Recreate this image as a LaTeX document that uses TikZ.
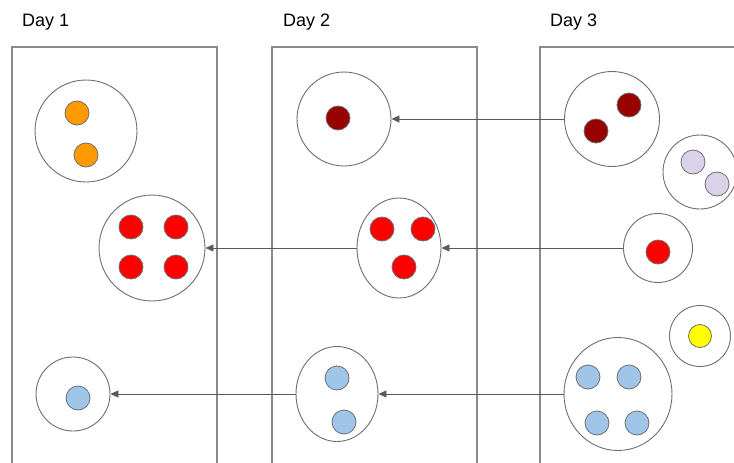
\documentclass[tikz,border=0pt]{standalone}
\usepackage{fontspec}
\setmainfont{Liberation Sans}
\usetikzlibrary{shapes.geometric,arrows.meta}
\definecolor{edgegray}{HTML}{6E6E6E}
\definecolor{boxgray}{HTML}{8A8A8A}
\definecolor{arrowgray}{HTML}{595959}
\definecolor{cellorange}{HTML}{FF9900}
\definecolor{celldark}{HTML}{990000}
\definecolor{cellred}{HTML}{FF0000}
\definecolor{cellblue}{HTML}{9FC5E8}
\definecolor{celllilac}{HTML}{D9D2E9}
\definecolor{cellyellow}{HTML}{FFFF00}
\tikzset{
  panel/.style={draw=boxgray,line width=1.2pt},
  cluster/.style={circle,draw=edgegray,fill=white,line width=0.9pt,inner sep=0pt},
  oval/.style={ellipse,draw=edgegray,fill=white,line width=0.9pt,inner sep=0pt},
  ball/.style={circle,draw=edgegray,line width=0.8pt,inner sep=0pt,minimum size=24pt},
  link/.style={draw=arrowgray,line width=0.9pt,-{Triangle[length=8pt,width=7pt]}},
  daylabel/.style={anchor=base west,inner sep=0pt,font=\fontsize{18}{22}\selectfont}
}
\begin{document}
\begin{tikzpicture}[x=1pt,y=-1pt]
  \useasboundingbox (0,0) rectangle (734,463);
  \clip (0,0) rectangle (734,463);
  % Days
  \node[daylabel] (day1) at (22,27) {Day 1};
  \node[daylabel] (day2) at (283,27) {Day 2};
  \node[daylabel] (day3) at (550,27) {Day 3};
  \draw[panel] (12,470) |- (217,47) -- (217,470);
  \draw[panel] (272,470) |- (477,47) -- (477,470);
  \draw[panel] (540,470) |- (745,47);
  % Day 1
  \node[cluster,minimum size=102pt] (d1o) at (86,131) {};
  \node[ball,fill=cellorange] (d1o1) at (77,113) {};
  \node[ball,fill=cellorange] (d1o2) at (86,155) {};
  \node[cluster,minimum size=106pt] (d1r) at (152,248) {};
  \node[ball,fill=cellred] (d1r1) at (131,227) {};
  \node[ball,fill=cellred] (d1r2) at (176,227) {};
  \node[ball,fill=cellred] (d1r3) at (131,267) {};
  \node[ball,fill=cellred] (d1r4) at (176,267) {};
  \node[cluster,minimum size=74pt] (d1b) at (73,394) {};
  \node[ball,fill=cellblue] (d1b1) at (78,398) {};
  % Day 2
  \node[cluster,minimum size=94pt] (d2d) at (344,119) {};
  \node[ball,fill=celldark] (d2d1) at (338,118) {};
  \node[oval,minimum width=84pt,minimum height=100pt] (d2r) at (399,248) {};
  \node[ball,fill=cellred] (d2r1) at (382,229) {};
  \node[ball,fill=cellred] (d2r2) at (423,229) {};
  \node[ball,fill=cellred] (d2r3) at (404,267) {};
  \node[oval,minimum width=82pt,minimum height=95pt] (d2b) at (337,394) {};
  \node[ball,fill=cellblue] (d2b1) at (337,378) {};
  \node[ball,fill=cellblue] (d2b2) at (344,422) {};
  % Day 3
  \node[cluster,minimum size=95pt] (d3d) at (612,119) {};
  \node[ball,fill=celldark] (d3d1) at (629,105) {};
  \node[ball,fill=celldark] (d3d2) at (596,131) {};
  \node[cluster,minimum size=74pt] (d3l) at (700,172) {};
  \node[ball,fill=celllilac] (d3l1) at (693,162) {};
  \node[ball,fill=celllilac] (d3l2) at (717,184) {};
  \node[cluster,minimum size=69pt] (d3r) at (658,248) {};
  \node[ball,fill=cellred] (d3r1) at (658,252) {};
  \node[cluster,minimum size=61pt] (d3y) at (700,336) {};
  \node[ball,fill=cellyellow,minimum size=23pt] (d3y1) at (700,336) {};
  \node[oval,minimum width=108pt,minimum height=113pt] (d3b) at (618,394) {};
  \node[ball,fill=cellblue] (d3b1) at (588,377) {};
  \node[ball,fill=cellblue] (d3b2) at (629,377) {};
  \node[ball,fill=cellblue] (d3b3) at (597,423) {};
  \node[ball,fill=cellblue] (d3b4) at (637,423) {};
  % Links
  \draw[link] (d3d.west) -- (d2d.east);
  \draw[link] (d3r.west) -- (d2r.east);
  \draw[link] (d2r.west) -- (d1r.east);
  \draw[link] (d3b.west) -- (d2b.east);
  \draw[link] (d2b.west) -- (d1b.east);
\end{tikzpicture}
\end{document}
